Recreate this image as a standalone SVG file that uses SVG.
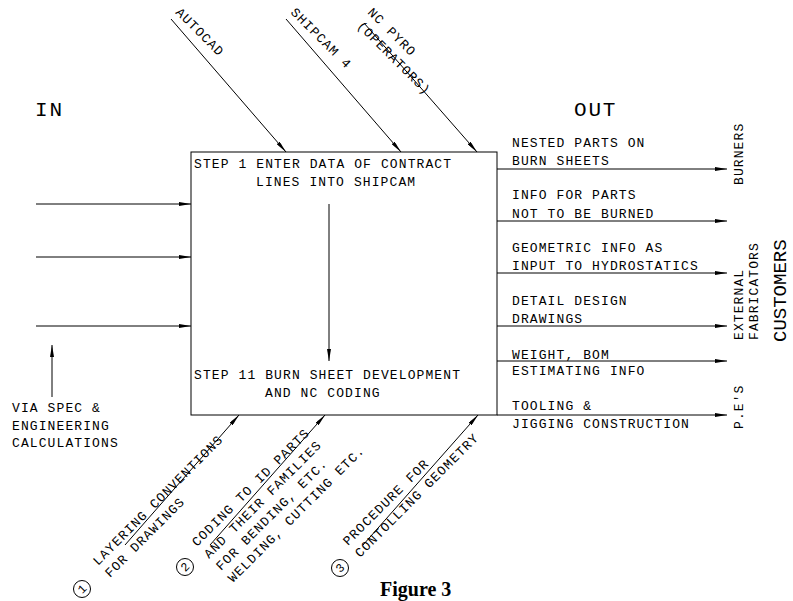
<svg xmlns="http://www.w3.org/2000/svg" width="793" height="601" viewBox="0 0 793 601">
<defs>
<marker id="ah" viewBox="0 0 12 4" refX="12" refY="2" markerWidth="12" markerHeight="4" markerUnits="userSpaceOnUse" orient="auto">
<path d="M0,0 L12,2 L0,4 z" fill="#000"/>
</marker>
<style>
.t{font-family:"Courier New","Nimbus Mono PS","FreeMono",Courier,"Liberation Mono",monospace;font-size:13px;letter-spacing:1.1px;fill:#000}
.big{font-family:"Courier New","Nimbus Mono PS","FreeMono",Courier,"Liberation Mono",monospace;font-size:21px;letter-spacing:1.8px;fill:#000}
.ln{stroke:#000;stroke-width:1;fill:none}
.ar{stroke:#000;stroke-width:1;fill:none;marker-end:url(#ah)}
.cir{stroke:#000;stroke-width:1;fill:none}
.num{font-family:"Courier New","Nimbus Mono PS","FreeMono",Courier,"Liberation Mono",monospace;font-size:12px;fill:#000;text-anchor:middle}
</style>
</defs>
<rect width="793" height="601" fill="#fff"/>

<g id="headers">
<text class="big" x="35" y="116">IN</text>
<text class="big" x="574" y="116">OUT</text>
</g>

<g id="process">
<rect class="ln" x="191" y="152" width="306" height="263"/>
<text class="t" x="194" y="168">STEP 1 ENTER DATA OF CONTRACT</text>
<text class="t" x="256" y="186">LINES INTO SHIPCAM</text>
<text class="t" x="194" y="379">STEP 11 BURN SHEET DEVELOPMENT</text>
<text class="t" x="265" y="397">AND NC CODING</text>
</g>

<g id="connectors">
<line class="ar" x1="329" y1="204" x2="329" y2="361"/>
<line class="ar" x1="36" y1="204" x2="191" y2="204"/>
<line class="ar" x1="36" y1="257" x2="191" y2="257"/>
<line class="ar" x1="36" y1="326" x2="191" y2="326"/>
<line class="ar" x1="52" y1="397" x2="52" y2="345"/>
<line class="ar" x1="171" y1="19" x2="286" y2="152"/>
<line class="ar" x1="286" y1="19" x2="401" y2="152"/>
<line class="ar" x1="364" y1="23" x2="477" y2="152"/>
<line class="ar" x1="125" y1="545" x2="239" y2="415"/>
<line class="ar" x1="210" y1="545" x2="325" y2="415"/>
<line class="ar" x1="363" y1="545" x2="478" y2="415"/>
<line class="ar" x1="497" y1="169" x2="727" y2="169"/>
<line class="ar" x1="497" y1="221" x2="727" y2="221"/>
<line class="ar" x1="497" y1="273" x2="727" y2="273"/>
<line class="ar" x1="497" y1="326" x2="727" y2="326"/>
<line class="ar" x1="497" y1="361" x2="727" y2="361"/>
<line class="ar" x1="497" y1="415" x2="727" y2="415"/>
</g>

<g id="controls">
<text class="t" transform="translate(175,13) rotate(45)">AUTOCAD</text>
<text class="t" transform="translate(290,13) rotate(45)">SHIPCAM 4</text>
<g transform="translate(367,13) rotate(45)">
<text class="t" x="0" y="0">NC PYRO</text>
<text class="t" x="2" y="17">(OPERATORS)</text>
</g>
</g>

<g id="input-note">
<text class="t" x="12" y="412">VIA SPEC &amp;</text>
<text class="t" x="12" y="430">ENGINEERING</text>
<text class="t" x="12" y="447">CALCULATIONS</text>
</g>

<g id="outputs">
<text class="t" x="512" y="147">NESTED PARTS ON</text>
<text class="t" x="512" y="165">BURN SHEETS</text>
<text class="t" x="512" y="199">INFO FOR PARTS</text>
<text class="t" x="512" y="217.5">NOT TO BE BURNED</text>
<text class="t" x="512" y="251.5">GEOMETRIC INFO AS</text>
<text class="t" x="512" y="270">INPUT TO HYDROSTATICS</text>
<text class="t" x="512" y="305">DETAIL DESIGN</text>
<text class="t" x="512" y="323">DRAWINGS</text>
<text class="t" x="512" y="358.5">WEIGHT, BOM</text>
<text class="t" x="512" y="374.5">ESTIMATING INFO</text>
<text class="t" x="512" y="410">TOOLING &amp;</text>
<text class="t" x="512" y="428">JIGGING CONSTRUCTION</text>
</g>

<g id="customers">
<text class="t" transform="translate(743,185) rotate(-90)">BURNERS</text>
<text class="t" transform="translate(743,340) rotate(-90)">EXTERNAL</text>
<text class="t" transform="translate(758,340) rotate(-90)">FABRICATORS</text>
<text class="t" transform="translate(743,429) rotate(-90)">P.E'S</text>
<text transform="translate(786,342) rotate(-90)" font-family="Courier New, Nimbus Mono PS, FreeMono, Courier, Liberation Mono, monospace" font-size="19" fill="#000">CUSTOMERS</text>
</g>

<g id="mechanism-1">
<circle class="cir" cx="82" cy="589" r="8.5"/>
<text class="num" transform="translate(82,589) rotate(-45)" y="4">1</text>
<g transform="translate(98,566) rotate(-45)">
<text class="t" x="0" y="0">LAYERING CONVENTIONS</text>
<text class="t" x="0" y="17">FOR DRAWINGS</text>
</g>
</g>

<g id="mechanism-2">
<circle class="cir" cx="185" cy="567" r="8.5"/>
<text class="num" transform="translate(185,567) rotate(-45)" y="4">2</text>
<g transform="translate(197,547) rotate(-45)">
<text class="t" x="0" y="0">CODING TO ID PARTS</text>
<text class="t" x="0" y="17">AND THEIR FAMILIES</text>
<text class="t" x="0" y="34">FOR BENDING, ETC.</text>
<text class="t" x="0" y="51">WELDING, CUTTING ETC.</text>
</g>
</g>

<g id="mechanism-3">
<circle class="cir" cx="340" cy="568" r="8.5"/>
<text class="num" transform="translate(340,568) rotate(-45)" y="4">3</text>
<g transform="translate(348,546) rotate(-45)">
<text class="t" x="0" y="0">PROCEDURE FOR</text>
<text class="t" x="0" y="17">CONTOLLING GEOMETRY</text>
</g>
</g>

<g id="caption">
<text x="380" y="596" font-family="Liberation Serif, Times New Roman, serif" font-weight="bold" font-size="20" fill="#000">Figure 3</text>
</g>
</svg>
